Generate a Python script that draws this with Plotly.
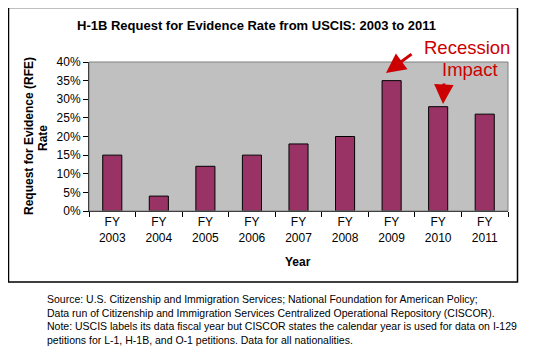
import plotly.graph_objects as go

years = ["2003", "2004", "2005", "2006", "2007", "2008", "2009", "2010", "2011"]
rfe_rate = [15, 4, 12, 15, 18, 20, 35, 28, 26]
y_ticks = [0, 5, 10, 15, 20, 25, 30, 35, 40]
y_tick_labels = [f"{v}%" for v in y_ticks]
categories = [f"FY<br>{y}" for y in years]

OFF = 8  # page body margin
W, H = 537 - OFF, 355 - OFF
L, R, T, B = 89, 508, 62, 211  # plot area in reference pixels


def px(x):
    return (x - L) / (R - L)


def py(y):
    return (B - y) / (B - T)


fig = go.Figure()
fig.add_trace(go.Bar(
    x=categories, y=rfe_rate,
    marker=dict(color="#993366", line=dict(color="#000000", width=1)),
    width=0.41,
))

font = "Liberation Sans, Arial, sans-serif"
fig.update_layout(
    width=W, height=H,
    margin=dict(l=L - OFF, r=537 - R, t=T - OFF, b=355 - B),
    paper_bgcolor="white",
    plot_bgcolor="#C0C0C0",
    showlegend=False,
    font=dict(family=font, size=12, color="black"),
    xaxis=dict(
        showline=True, linecolor="black", linewidth=1,
        ticks="outside", tickson="boundaries", ticklen=5, tickcolor="black",
        tickfont=dict(size=12), showgrid=False,
    ),
    yaxis=dict(
        range=[0, 40], tickvals=y_ticks, ticktext=y_tick_labels,
        showline=True, linecolor="black", linewidth=1,
        ticks="outside", ticklen=5, tickcolor="black",
        tickfont=dict(size=12), showgrid=False, zeroline=False,
    ),
)

# plot-area border
fig.add_shape(type="rect", xref="paper", yref="paper", x0=0, x1=1, y0=0, y1=1,
              line=dict(color="#808080", width=1), layer="above")
# outer frame
fig.add_shape(type="rect", xref="paper", yref="paper",
              x0=px(8.5), x1=px(517.5), y0=py(282), y1=py(7.5),
              line=dict(color="black", width=1.5))

def text(x, y, s, size, bold=False, color="black", align="center", xanchor="center", angle=0):
    fig.add_annotation(xref="paper", yref="paper", x=px(x), y=py(y), text=s,
                       showarrow=False, xanchor=xanchor, yanchor="middle", align=align,
                       textangle=angle,
                       font=dict(family=font, size=size, color=color,
                                 weight="bold" if bold else "normal"))

text(256, 25, "H-1B Request for Evidence Rate from USCIS: 2003 to 2011", 13, bold=True)
text(298, 262, "Year", 12, bold=True)
text(29, 136, "Request for Evidence (RFE)", 12, bold=True, angle=-90)
text(43, 138, "Rate", 12, bold=True, angle=-90)

text(467, 47, "Recession", 18.5, color="#CC0000")
text(470, 69, "Impact", 18.5, color="#CC0000")

# arrows
fig.add_annotation(xref="paper", yref="paper", x=px(386), y=py(73), ax=27, ay=-20,
                   showarrow=True, arrowhead=2, arrowsize=1.3, arrowwidth=3,
                   arrowcolor="#CC0000", text="")
fig.add_annotation(xref="paper", yref="paper", x=px(443), y=py(104), ax=1, ay=-22,
                   showarrow=True, arrowhead=2, arrowsize=1.3, arrowwidth=3,
                   arrowcolor="#CC0000", text="")

note = ("Source: U.S. Citizenship and Immigration Services; National Foundation for American Policy;<br>"
        "Data run of Citizenship and Immigration Services Centralized Operational Repository (CISCOR).<br>"
        "Note: USCIS labels its data fiscal year but CISCOR states the calendar year is used for data on I-129<br>"
        "petitions for L-1, H-1B, and O-1 petitions. Data for all nationalities.")
fig.add_annotation(xref="paper", yref="paper", x=px(45), y=py(291), text=note,
                   showarrow=False, xanchor="left", yanchor="top", align="left",
                   font=dict(family=font, size=10.5))

fig.write_html("out.html")
